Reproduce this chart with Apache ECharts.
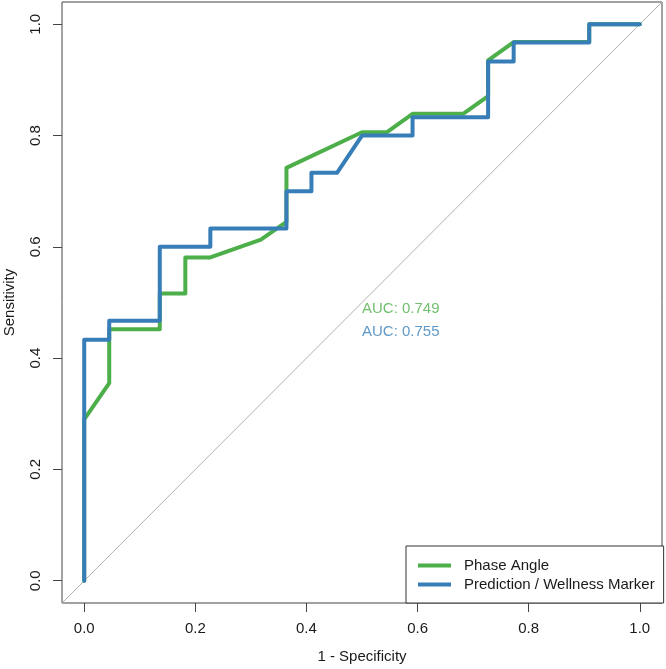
<!DOCTYPE html>
<html>
<head>
<meta charset="utf-8">
<script src="https://cdn.jsdelivr.net/npm/echarts@6/dist/echarts.min.js"></script>
<style>
html,body{margin:0;padding:0;background:#fff;}
#chart{width:666px;height:669px;}
</style>
</head>
<body>
<div id="chart"></div>
<script>
// ---- data ----
var seriesNames = ['Phase Angle', 'Prediction / Wellness Marker'];
// [1 - Specificity, Sensitivity]
var phaseAngle = [
  [0, 0], [0, 0.290], [0.045, 0.355], [0.045, 0.452], [0.136, 0.452], [0.136, 0.516],
  [0.182, 0.516], [0.182, 0.581], [0.227, 0.581], [0.318, 0.613], [0.364, 0.645],
  [0.364, 0.742], [0.5, 0.806], [0.545, 0.806], [0.591, 0.839], [0.682, 0.839],
  [0.727, 0.871], [0.727, 0.935], [0.773, 0.968], [0.909, 0.968], [0.909, 1], [1, 1]
];
var wellnessMarker = [
  [0, 0], [0, 0.433], [0.045, 0.433], [0.045, 0.467], [0.136, 0.467], [0.136, 0.600],
  [0.227, 0.600], [0.227, 0.633], [0.364, 0.633], [0.364, 0.700], [0.409, 0.700],
  [0.409, 0.733], [0.455, 0.733], [0.5, 0.800], [0.591, 0.800], [0.591, 0.833],
  [0.727, 0.833], [0.727, 0.933], [0.773, 0.933], [0.773, 0.967], [0.909, 0.967],
  [0.909, 1], [1, 1]
];
var diagonal = [[-0.04, -0.04], [1.04, 1.04]];
var aucTexts = ['AUC: 0.749', 'AUC: 0.755'];
var tickValues = [0, 0.2, 0.4, 0.6, 0.8, 1.0];

var FONT = '"Liberation Sans", Arial, sans-serif';
var GREEN = '#4DAF4A', BLUE = '#377EB8';

var chart = echarts.init(document.getElementById('chart'), null, {renderer: 'canvas'});

function axisCommon(name) {
  return {
    type: 'value', min: -0.04, max: 1.04,
    name: name, nameLocation: 'middle',
    nameTextStyle: {fontFamily: FONT, fontSize: 15, color: '#1a1a1a'},
    axisLine: {show: false, onZero: false},
    splitLine: {show: false},
    axisTick: {show: true, length: 9, customValues: tickValues, lineStyle: {color: '#444', width: 1}},
    axisLabel: {customValues: tickValues, fontFamily: FONT, fontSize: 15, color: '#1a1a1a',
      formatter: function (v) { return v.toFixed(1); }}
  };
}

var xAxis = axisCommon('1 - Specificity');
xAxis.nameGap = 46;
xAxis.axisLabel.margin = 18;
var yAxis = axisCommon('Sensitivity');
yAxis.nameGap = 45;
yAxis.axisLabel.margin = 19;
yAxis.axisLabel.rotate = 90;

chart.setOption({
  animation: false,
  backgroundColor: '#fff',
  grid: {left: 62, right: 4, top: 2, bottom: 66, show: true, borderColor: '#444', borderWidth: 1,
    containLabel: false, outerBoundsMode: 'none'},
  xAxis: xAxis,
  yAxis: yAxis,
  legend: {
    data: seriesNames,
    orient: 'vertical', left: 406, top: 546,
    icon: 'rect', itemWidth: 33, itemHeight: 4, itemGap: 4,
    padding: [12, 9, 11, 12],
    borderColor: '#333', borderWidth: 1, backgroundColor: '#fff',
    textStyle: {fontFamily: FONT, fontSize: 15, color: '#1a1a1a', lineHeight: 15, padding: [0, 0, 0, 8]},
    selectedMode: false
  },
  series: [
    {
      type: 'line', name: 'diag', data: diagonal, showSymbol: false, silent: true,
      lineStyle: {color: '#b0b0b0', width: 1}, z: 1
    },
    {
      type: 'line', name: seriesNames[0], data: phaseAngle, showSymbol: false,
      color: GREEN, lineStyle: {color: GREEN, width: 4, cap: 'round', join: 'round'}, z: 2
    },
    {
      type: 'line', name: seriesNames[1], data: wellnessMarker, showSymbol: false,
      color: BLUE, lineStyle: {color: BLUE, width: 4, cap: 'round', join: 'round'}, z: 3
    },
    {
      type: 'scatter', name: 'auc', symbolSize: 0, silent: true, z: 4,
      data: [
        {value: [0.5, 0.488], label: {formatter: aucTexts[0], color: GREEN}},
        {value: [0.5, 0.447], label: {formatter: aucTexts[1], color: BLUE}}
      ],
      label: {show: true, position: 'right', distance: 0, fontFamily: FONT, fontSize: 15}
    }
  ]
});
</script>
</body>
</html>
